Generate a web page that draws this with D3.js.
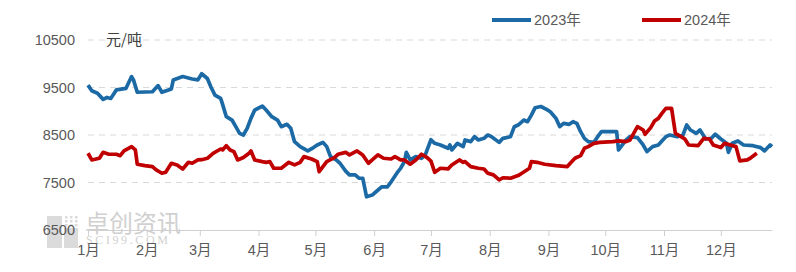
<!DOCTYPE html>
<html>
<head>
<meta charset="utf-8">
<script src="https://cdn.jsdelivr.net/npm/d3@7"></script>
<style>
  body { margin: 0; background: #fff; }
  #content { width: 796px; height: 272px; }
  text { font-family: "Liberation Sans", Arial, "Noto Sans CJK SC", sans-serif; }
</style>
</head>
<body>
<div id="content"></div>
<script>
// series data (MM-DD on a shared calendar, price in yuan/ton)
var dates2023 = ['01-01','01-03','01-06','01-09','01-11','01-13','01-16','01-21','01-24','01-25','01-27',
  '02-04','02-07','02-09','02-14','02-15','02-20','02-25','02-28',
  '03-02','03-05','03-07','03-09','03-12','03-13','03-15','03-18','03-20','03-22','03-24','03-26','03-28','03-30',
  '04-03','04-05','04-08','04-11','04-13','04-16','04-18','04-20','04-23','04-27','04-30',
  '05-02','05-05','05-07','05-09','05-12','05-14','05-17','05-19','05-22','05-24','05-26','05-28','05-31',
  '06-02','06-05','06-08','06-10','06-13','06-15','06-17','06-18','06-20','06-23','06-26','06-28',
  '07-01','07-03','07-06','07-10','07-11','07-12','07-15','07-18','07-19','07-22','07-24','07-26','07-29','07-31',
  '08-02','08-06','08-08','08-12','08-14','08-16','08-19','08-21','08-23','08-25','08-28','08-31',
  '09-02','09-05','09-07','09-09','09-12','09-14','09-16','09-18','09-20','09-22','09-25','09-27','09-29',
  '10-07','10-08','10-10','10-12','10-14','10-18','10-21','10-23','10-26','10-29','10-31',
  '11-02','11-04','11-08','11-11','11-13','11-15','11-18','11-20','11-23','11-26','11-28',
  '12-01','12-04','12-05','12-07','12-10','12-13','12-18','12-22','12-24','12-27','12-28'];
var values2023 = [9550,9430,9380,9250,9290,9270,9450,9480,9730,9660,9400,
  9410,9540,9400,9470,9660,9730,9680,9660,
  9790,9690,9500,9340,9270,9150,8885,8815,8675,8535,8500,8640,8850,9025,
  9110,9025,8885,8815,8675,8725,8640,8360,8255,8165,8235,
  8290,8345,8255,8045,7975,7905,7740,7660,7660,7590,7590,7200,7235,
  7305,7410,7410,7515,7695,7800,7940,8135,7975,8045,8010,8080,
  8400,8325,8290,8220,8290,8185,8325,8255,8395,8360,8465,8395,8430,8500,
  8465,8345,8430,8465,8675,8710,8815,8780,8920,9075,9100,9040,
  8990,8850,8675,8745,8725,8780,8745,8570,8430,8360,8345,8465,8570,
  8570,8185,8290,8395,8465,8445,8290,8150,8255,8290,8380,
  8465,8500,8465,8500,8710,8605,8535,8605,8415,8430,8515,
  8415,8325,8135,8325,8375,8290,8275,8235,8165,8290,8255];

var dates2024 = ['01-01','01-03','01-07','01-09','01-12','01-16','01-18','01-20','01-24','01-26','01-27','01-31',
  '02-04','02-06','02-09','02-11','02-14','02-17','02-20','02-23','02-25','02-28',
  '03-02','03-05','03-08','03-12','03-13','03-15','03-17','03-19','03-21','03-24','03-27','03-28','03-30',
  '04-03','04-05','04-07','04-09','04-13','04-17','04-20','04-23','04-25','04-29',
  '05-02','05-03','05-07','05-11','05-13','05-17','05-19','05-23','05-26','05-29','05-31',
  '06-03','06-06','06-10','06-12','06-15','06-17','06-20','06-23','06-26','06-29',
  '07-01','07-03','07-06','07-10','07-12','07-16','07-18','07-19','07-22','07-26','07-29','07-31',
  '08-03','08-06','08-08','08-12','08-16','08-18','08-22','08-23','08-26','08-30',
  '09-05','09-11','09-13','09-15','09-18','09-20','09-22','09-25','09-28',
  '10-05','10-08','10-12','10-14','10-16','10-18','10-21','10-22','10-25','10-27','10-29','10-31',
  '11-02','11-05','11-07','11-10','11-12','11-14','11-19','11-22','11-25','11-27',
  '12-01','12-03','12-06','12-09','12-11','12-15','12-17','12-20'];
var values2024 = [8115,7975,8010,8135,8095,8095,8065,8165,8255,8185,7885,7855,
  7835,7765,7695,7715,7905,7870,7785,7925,7905,7975,
  7980,8010,8115,8205,8185,8275,8185,8150,7975,8025,8115,8165,7975,
  7940,7925,7940,7800,7800,7925,7870,7925,8045,7995,
  7940,7730,7940,8025,8095,8135,8080,8165,8080,7905,7975,
  8080,8010,7995,8045,7975,7975,7885,7975,8095,8025,
  7950,7715,7800,7785,7870,7975,7925,7940,7835,7800,7785,7695,
  7660,7555,7600,7590,7645,7695,7800,7940,7925,7885,
  7855,7835,7925,8010,8065,8220,8255,8325,8345,
  8360,8375,8360,8395,8535,8675,8605,8515,8655,8795,8850,8960,
  9060,9060,8535,8465,8415,8290,8275,8430,8415,8290,
  8235,8325,8290,8255,7955,7975,8025,8115];

var yTicks = [6500, 7500, 8500, 9500, 10500];
var monthLabels = ['1月','2月','3月','4月','5月','6月','7月','8月','9月','10月','11月','12月'];
var seriesNames = ['2023年', '2024年'];
var seriesColors = ['#1c6aa5', '#c00000'];

var parseDay = d3.timeParse('%Y-%m-%d');

drawChart('#content', 796, 272);

function drawChart(pageid, w, h) {

  // plot area margins
  var margin = {top: 40, right: 24, bottom: 42, left: 88},
      width = w - margin.left - margin.right,
      height = h - margin.top - margin.bottom;

  var x = d3.scaleTime()
      .domain([parseDay('2023-01-01'), parseDay('2023-12-28')])
      .range([0, width]);

  var y = d3.scaleLinear().domain([6500, 10500]).range([height, 0]);

  var svg = d3.select(pageid)
      .append('svg')
      .attr('width', w)
      .attr('height', h);

  // watermark behind everything
  var wm = svg.append('g').attr('opacity', 0.4);
  wm.append('rect').attr('x', 47).attr('y', 216).attr('width', 15).attr('height', 32).attr('fill', '#a8a8a8');
  wm.append('rect').attr('x', 64).attr('y', 228).attr('width', 14).attr('height', 20).attr('fill', '#a8a8a8');
  wm.selectAll('.dot')
      .data(d3.range(9))
      .enter().append('rect')
      .attr('x', function(d) { return 65 + (d % 3) * 5; })
      .attr('y', function(d) { return 216 + Math.floor(d / 3) * 4; })
      .attr('width', 2.5).attr('height', 2.5)
      .attr('fill', '#a8a8a8');
  wm.append('text').attr('x', 85).attr('y', 232)
      .style('font-family', '"Noto Sans CJK SC", sans-serif')
      .style('font-size', '24px').attr('fill', '#8c8c8c').text('卓创资讯');
  wm.append('text').attr('x', 86).attr('y', 244)
      .style('font-family', '"Liberation Serif", serif')
      .style('font-size', '12px').style('letter-spacing', '2.6px')
      .attr('fill', '#8c8c8c').text('SCI99.COM');

  var g = svg.append('g')
      .attr('transform', 'translate(' + margin.left + ',' + margin.top + ')');

  // dashed gridlines
  g.selectAll('.grid')
      .data(yTicks.filter(function(d) { return d !== 6500; }))
      .enter().append('line')
      .attr('x1', 0).attr('x2', width)
      .attr('y1', function(d) { return y(d); })
      .attr('y2', function(d) { return y(d); })
      .attr('stroke', '#d9d9d9')
      .attr('stroke-width', 1)
      .attr('stroke-dasharray', '6,5');

  // y axis labels
  var yAxis = g.append('g')
      .call(d3.axisLeft(y).tickValues(yTicks).tickSize(0).tickPadding(13).tickFormat(d3.format('d')));
  yAxis.select('.domain').remove();
  yAxis.selectAll('text').style('font-size', '14.5px').attr('fill', '#595959');

  // x axis
  var monthStarts = d3.range(12).map(function(i) { return new Date(2023, i, 1); });
  var xAxis = g.append('g')
      .attr('transform', 'translate(0,' + height + ')')
      .call(d3.axisBottom(x).tickValues(monthStarts).tickSize(6).tickPadding(9)
        .tickFormat(function(d, i) { return monthLabels[i]; }));
  xAxis.select('.domain').attr('stroke', '#d0d0d0').attr('d', 'M0,0.5H' + width);
  xAxis.selectAll('.tick line').attr('stroke', '#d0d0d0');
  xAxis.selectAll('text').style('font-size', '14.5px').attr('fill', '#595959');

  // unit label
  g.append('text')
      .attr('x', 18).attr('y', 0)
      .attr('dy', '.35em')
      .style('font-family', '"Noto Sans CJK SC", sans-serif')
      .style('font-size', '15px')
      .attr('fill', '#404040')
      .text('元/吨');

  var line = d3.line()
      .x(function(d) { return x(d.date); })
      .y(function(d) { return y(d.value); });

  function toSeries(ds, vs) {
    return ds.map(function(d, i) { return {date: parseDay('2023-' + d), value: vs[i]}; });
  }

  var series = [toSeries(dates2023, values2023), toSeries(dates2024, values2024)];

  series.forEach(function(s, i) {
    g.append('path')
        .datum(s)
        .attr('fill', 'none')
        .attr('stroke', seriesColors[i])
        .attr('stroke-width', 3.7)
        .attr('stroke-linejoin', 'round')
        .attr('d', line);
  });

  // legend
  var legendX = [492, 642];
  seriesNames.forEach(function(name, i) {
    svg.append('line')
        .attr('x1', legendX[i]).attr('x2', legendX[i] + 39)
        .attr('y1', 20).attr('y2', 20)
        .attr('stroke', seriesColors[i])
        .attr('stroke-width', 4);
    svg.append('text')
        .attr('x', legendX[i] + 42).attr('y', 20)
        .attr('dy', '.35em')
        .style('font-size', '14.5px')
        .attr('fill', '#595959')
        .text(name);
  });
}
</script>
</body>
</html>
